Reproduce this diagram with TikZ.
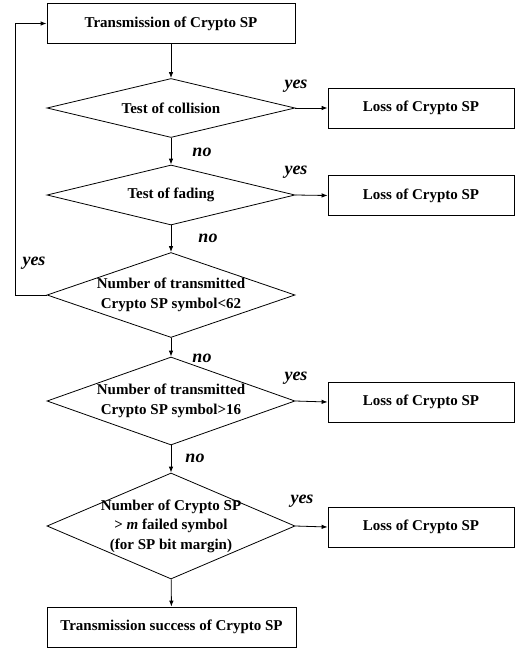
\documentclass[tikz,border=0pt]{standalone}
\usepackage{fontspec}
\setmainfont{Liberation Serif}
\usetikzlibrary{shapes.geometric,arrows.meta}
\begin{document}
\begin{tikzpicture}[x=1pt,y=-1pt,
  every node/.style={font=\fontsize{15}{19.5}\selectfont\bfseries},
  box/.style={draw,line width=0.8pt,rectangle,minimum height=40pt,inner sep=0pt,align=center},
  dia/.style={draw,line width=0.8pt,diamond,inner sep=0pt,align=center},
  lbl/.style={font=\fontsize{18}{20}\selectfont\bfseries\itshape,inner sep=0pt},
  arr/.style={line width=0.8pt,-{Latex[length=6pt,width=4.5pt]}}]
\path[use as bounding box,fill=white] (0,0) rectangle (518,648);
\node[box,minimum width=248pt] (top) at (171,23.5) {Transmission of Crypto SP};
\node[dia,minimum width=248pt,minimum height=59pt,aspect=4.2] (d1) at (171,108) {Test of collision};
\node[dia,minimum width=248pt,minimum height=60pt,aspect=4.1] (d2) at (171,195) {Test of fading};
\node[dia,minimum width=248pt,minimum height=85pt,aspect=2.9] (d3) at (171,295) {Number of transmitted\\Crypto SP symbol<62};
\node[dia,minimum width=248pt,minimum height=88pt,aspect=2.8] (d4) at (171,401) {Number of transmitted\\Crypto SP symbol>16};
\node[dia,minimum width=248pt,minimum height=106pt,aspect=2.34,inner sep=-10pt] (d5) at (171,526) {Number of Crypto SP\\> \textit{m} failed symbol\\(for SP bit margin)};
\node[box,minimum width=249pt] (bot) at (171.5,627) {Transmission success of Crypto SP};
\node[box,minimum width=186pt] (l1) at (421,108) {Loss of Crypto SP};
\node[box,minimum width=186pt] (l2) at (421,195.5) {Loss of Crypto SP};
\node[box,minimum width=186pt] (l3) at (421,402) {Loss of Crypto SP};
\node[box,minimum width=186pt] (l4) at (421,527) {Loss of Crypto SP};
\coordinate (c1) at (15,295);
\coordinate (c2) at (15,23.5);
\draw[arr] (top) -- (d1);
\draw[arr] (d1) -- (d2);
\draw[arr] (d2) -- (d3);
\draw[arr] (d3) -- (d4);
\draw[arr] (d4) -- (d5);
\draw[arr] (d5) -- (bot);
\draw[arr] (d1.east) -- (l1.west);
\draw[arr] (d2.east) -- (l2.west);
\draw[arr] (d4.east) -- (l3.west);
\draw[arr] (d5.east) -- (l4.west);
\draw[arr] (d3.west) -- (c1) -- (c2) -- (top.west);
\node[lbl] (y1) at (296,86) {yes};
\node[lbl] (y2) at (296,172) {yes};
\node[lbl] (y3) at (34,263) {yes};
\node[lbl] (y4) at (296,378) {yes};
\node[lbl] (y5) at (302,501) {yes};
\node[lbl] (n1) at (202,152) {no};
\node[lbl] (n2) at (208,238) {no};
\node[lbl] (n3) at (202,358) {no};
\node[lbl] (n4) at (195,458) {no};
\end{tikzpicture}
\end{document}
